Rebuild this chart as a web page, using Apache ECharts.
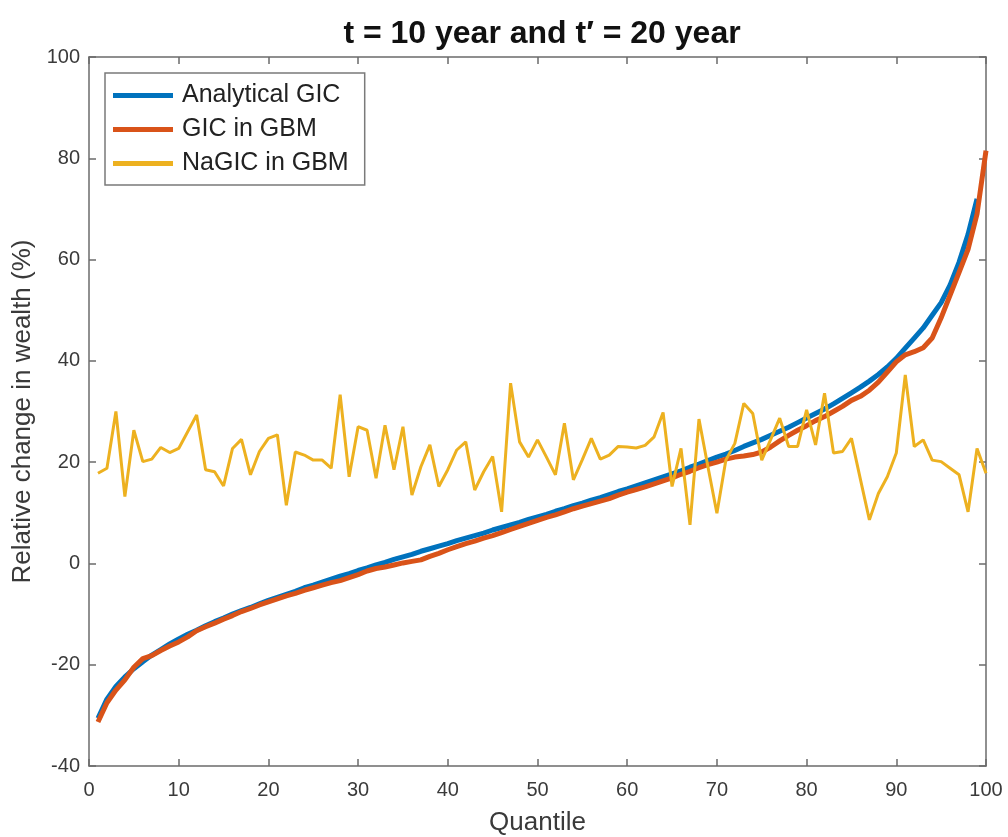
<!DOCTYPE html>
<html>
<head>
<meta charset="utf-8">
<script src="https://cdn.jsdelivr.net/npm/echarts@6/dist/echarts.min.js"></script>
<style>
  html, body { margin: 0; padding: 0; background: #fff; }
  #chart { width: 1008px; height: 837px; }
</style>
</head>
<body>
<div id="chart"></div>
<script>
// quantile 1..99 (analytical curve stops at 99)
const analyticalGIC = [
  -30.6, -26.8, -24.3, -22.4, -20.8, -19.4, -18.1, -17.0, -15.9, -14.9,
  -14.0, -13.2, -12.3, -11.5, -10.8, -10.0, -9.3, -8.7, -8.0, -7.3,
  -6.7, -6.1, -5.5, -4.8, -4.3, -3.7, -3.1, -2.5, -2.0, -1.4,
  -0.9, -0.3, 0.2, 0.8, 1.3, 1.8, 2.4, 2.9, 3.4, 3.9,
  4.5, 5.0, 5.5, 6.0, 6.6, 7.1, 7.6, 8.1, 8.7, 9.2,
  9.7, 10.3, 10.8, 11.4, 11.9, 12.5, 13.0, 13.6, 14.2, 14.7,
  15.3, 15.9, 16.5, 17.1, 17.7, 18.3, 19.0, 19.6, 20.3, 21.0,
  21.6, 22.3, 23.1, 23.8, 24.5, 25.3, 26.1, 26.9, 27.8, 28.7,
  29.6, 30.5, 31.5, 32.6, 33.7, 34.8, 36.0, 37.3, 38.8, 40.5,
  42.5, 44.5, 46.5, 49.0, 51.5, 55.0, 59.5, 65.0, 72.0
];

// quantile 1..100
const gicGBM = [
  -31.3, -27.5, -25.0, -23.0, -20.5, -18.8, -18.2, -17.2, -16.3, -15.5,
  -14.5, -13.3, -12.5, -11.8, -11.0, -10.3, -9.5, -8.9, -8.2, -7.6,
  -7.0, -6.4, -5.9, -5.3, -4.8, -4.3, -3.8, -3.4, -2.8, -2.2,
  -1.5, -1.0, -0.7, -0.3, 0.1, 0.4, 0.7, 1.4, 2.0, 2.7,
  3.3, 3.9, 4.4, 5.0, 5.5, 6.1, 6.7, 7.3, 7.9, 8.5,
  9.1, 9.6, 10.2, 10.8, 11.3, 11.8, 12.3, 12.8, 13.5, 14.1,
  14.6, 15.1, 15.7, 16.3, 16.9, 17.6, 18.2, 18.9, 19.5, 20.0,
  20.6, 21.0, 21.2, 21.5, 22.0, 23.0, 24.2, 25.3, 26.3, 27.2,
  28.2, 29.0, 30.0, 31.0, 32.2, 33.0, 34.2, 35.8, 37.8, 39.8,
  41.2, 41.8, 42.6, 44.5, 48.5, 53.0, 57.5, 62.0, 69.0, 81.5
];

// quantile 1..100
const naGicGBM = [
  17.8, 18.8, 30.0, 13.2, 26.3, 20.1, 20.6, 22.9, 21.9, 22.7,
  26.0, 29.3, 18.5, 18.1, 15.3, 22.7, 24.5, 17.5, 22.1, 24.7,
  25.4, 11.5, 22.0, 21.4, 20.4, 20.4, 18.8, 33.3, 17.1, 27.0,
  26.3, 16.8, 27.3, 18.5, 27.0, 13.5, 19.1, 23.4, 15.2, 18.5,
  22.4, 24.0, 14.5, 18.1, 21.1, 10.2, 35.6, 24.0, 21.0, 24.4,
  21.0, 17.5, 27.7, 16.5, 20.5, 24.7, 20.6, 21.4, 23.1, 23.0,
  22.8, 23.3, 25.0, 29.8, 15.2, 22.7, 7.6, 28.5, 19.1, 9.9,
  20.4, 23.7, 31.6, 29.6, 20.4, 24.5, 28.7, 23.1, 23.1, 30.3,
  23.4, 33.6, 21.8, 22.1, 24.7, 16.6, 8.6, 13.8, 17.1, 21.8,
  37.2, 23.1, 24.4, 20.4, 20.1, 18.8, 17.5, 10.2, 22.7, 17.8
];

const seriesNames = ['Analytical GIC', 'GIC in GBM', 'NaGIC in GBM'];
const colors = ['#0072BD', '#D95319', '#EDB120'];

const font = 'Liberation Sans, Arial, Helvetica, sans-serif';
const axisColor = '#6b6b6b';
const textColor = '#3a3a3a';

// quantile index -> x
const toPoints = arr => arr.map((v, i) => [i + 1, v]);

const chart = echarts.init(document.getElementById('chart'));

const boxAxis = {
  show: true,
  axisLine: { show: true, onZero: false, lineStyle: { color: axisColor, width: 1.5 } },
  axisTick: { show: true, inside: true, length: 7, lineStyle: { color: axisColor, width: 1.5 } },
  splitLine: { show: false }
};

const option = {
  animation: false,
  backgroundColor: '#fff',
  color: colors,
  title: {
    text: 't = 10 year and t\u2032 = 20 year',
    left: 537,
    textAlign: 'center',
    top: 13,
    textStyle: { fontFamily: font, fontSize: 32, fontWeight: 'bold', color: '#111' }
  },
  legend: {
    data: seriesNames,
    orient: 'vertical',
    left: 105,
    top: 73,
    icon: 'rect',
    itemWidth: 60,
    itemHeight: 5,
    itemGap: 9,
    padding: [10, 16, 9, 8],
    borderColor: '#7a7a7a',
    borderWidth: 1.5,
    backgroundColor: '#fff',
    textStyle: { fontFamily: font, fontSize: 25, color: '#222', padding: [0, 0, 0, 4] }
  },
  grid: { left: 89, right: 22, top: 57, bottom: 71, outerBoundsMode: 'none' },
  xAxis: [
    Object.assign({}, boxAxis, {
      type: 'value', min: 0, max: 100, interval: 10, position: 'bottom',
      name: 'Quantile', nameLocation: 'middle', nameGap: 44,
      nameTextStyle: { fontFamily: font, fontSize: 26, color: textColor },
      axisLabel: { fontFamily: font, fontSize: 20, color: textColor, margin: 14 }
    }),
    Object.assign({}, boxAxis, {
      type: 'value', min: 0, max: 100, interval: 10, position: 'top',
      axisLabel: { show: false }
    })
  ],
  yAxis: [
    Object.assign({}, boxAxis, {
      type: 'value', min: -40, max: 100, interval: 20, position: 'left',
      name: 'Relative change in wealth (%)', nameLocation: 'middle', nameGap: 46,
      nameTextStyle: { fontFamily: font, fontSize: 26, color: textColor },
      axisLabel: { fontFamily: font, fontSize: 20, color: textColor, margin: 9 }
    }),
    Object.assign({}, boxAxis, {
      type: 'value', min: -40, max: 100, interval: 20, position: 'right',
      axisLabel: { show: false }
    })
  ],
  series: [
    {
      name: seriesNames[0], type: 'line', data: toPoints(analyticalGIC),
      showSymbol: false, lineStyle: { width: 5 }, z: 2
    },
    {
      name: seriesNames[1], type: 'line', data: toPoints(gicGBM),
      showSymbol: false, lineStyle: { width: 5 }, z: 3
    },
    {
      name: seriesNames[2], type: 'line', data: toPoints(naGicGBM),
      showSymbol: false, lineStyle: { width: 3 }, z: 4
    }
  ]
};

chart.setOption(option);
</script>
</body>
</html>
